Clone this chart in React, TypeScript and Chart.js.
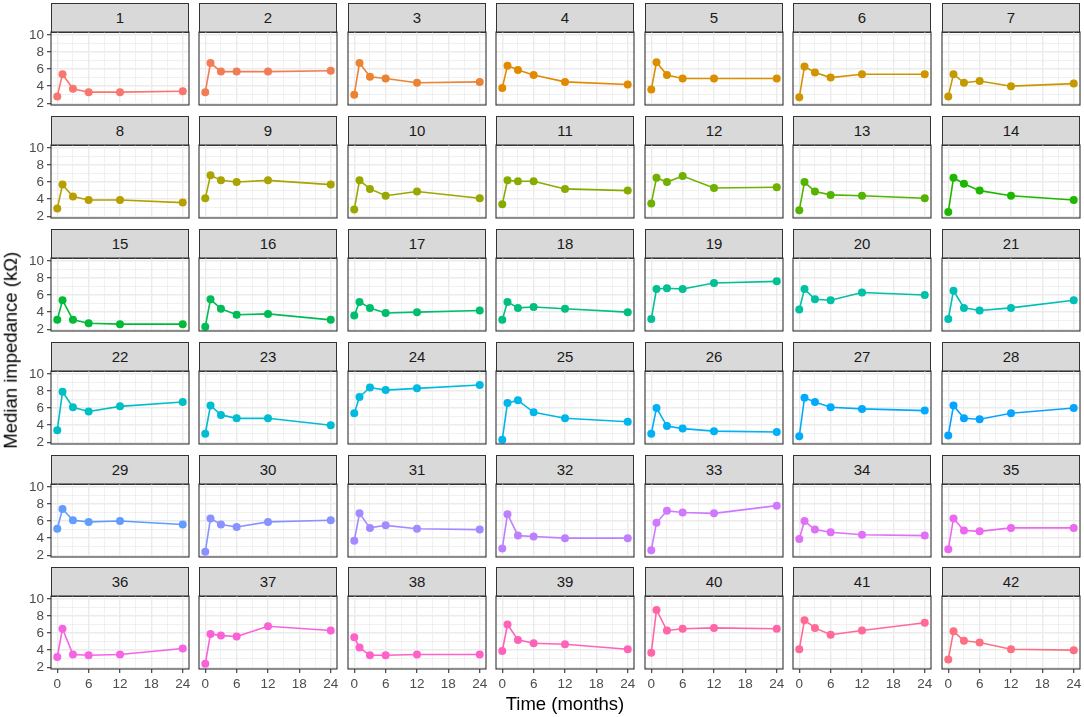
import React, { useEffect, useRef } from 'react';
import { Chart, registerables } from 'chart.js';

Chart.register(...registerables);

// ---------- data ----------
const months = [0, 1, 3, 6, 12, 24];
const electrodeLabels = [
  '1', '2', '3', '4', '5', '6', '7', '8', '9', '10', '11', '12', '13', '14',
  '15', '16', '17', '18', '19', '20', '21', '22', '23', '24', '25', '26', '27', '28',
  '29', '30', '31', '32', '33', '34', '35', '36', '37', '38', '39', '40', '41', '42',
];
const medianImpedance: number[][] = [
  [2.8, 5.4, 3.7, 3.3, 3.3, 3.4],
  [3.3, 6.7, 5.7, 5.7, 5.7, 5.8],
  [3.0, 6.7, 5.1, 4.9, 4.4, 4.5],
  [3.8, 6.4, 5.9, 5.3, 4.5, 4.2],
  [3.6, 6.8, 5.3, 4.9, 4.9, 4.9],
  [2.7, 6.3, 5.6, 5.0, 5.4, 5.4],
  [2.8, 5.4, 4.4, 4.6, 4.0, 4.3],
  [2.9, 5.7, 4.3, 3.9, 3.9, 3.6],
  [4.1, 6.8, 6.2, 6.0, 6.2, 5.7],
  [2.8, 6.2, 5.2, 4.4, 4.9, 4.1],
  [3.4, 6.2, 6.1, 6.1, 5.2, 5.0],
  [3.5, 6.5, 6.0, 6.7, 5.3, 5.4],
  [2.7, 6.0, 4.9, 4.5, 4.4, 4.1],
  [2.5, 6.5, 5.8, 5.0, 4.4, 3.9],
  [3.1, 5.4, 3.1, 2.7, 2.6, 2.6],
  [2.3, 5.5, 4.4, 3.7, 3.8, 3.1],
  [3.6, 5.2, 4.5, 3.9, 4.0, 4.2],
  [3.1, 5.2, 4.5, 4.6, 4.4, 4.0],
  [3.2, 6.7, 6.8, 6.7, 7.4, 7.6],
  [4.3, 6.7, 5.5, 5.4, 6.3, 6.0],
  [3.2, 6.5, 4.5, 4.2, 4.5, 5.4],
  [3.4, 7.9, 6.1, 5.6, 6.2, 6.7],
  [3.0, 6.3, 5.2, 4.8, 4.8, 4.0],
  [5.4, 7.3, 8.4, 8.1, 8.3, 8.7],
  [2.3, 6.6, 6.9, 5.5, 4.8, 4.4],
  [3.0, 6.0, 3.9, 3.6, 3.3, 3.2],
  [2.7, 7.2, 6.7, 6.1, 5.9, 5.7],
  [2.8, 6.3, 4.8, 4.7, 5.4, 6.0],
  [5.1, 7.4, 6.1, 5.9, 6.0, 5.6],
  [2.4, 6.3, 5.6, 5.3, 5.9, 6.1],
  [3.7, 6.9, 5.2, 5.5, 5.1, 5.0],
  [2.8, 6.8, 4.3, 4.2, 4.0, 4.0],
  [2.6, 5.8, 7.2, 7.0, 6.9, 7.8],
  [3.9, 6.0, 5.0, 4.7, 4.4, 4.3],
  [2.7, 6.3, 4.9, 4.8, 5.2, 5.2],
  [3.2, 6.5, 3.5, 3.4, 3.5, 4.2],
  [2.4, 5.9, 5.7, 5.6, 6.8, 6.3],
  [5.5, 4.3, 3.4, 3.4, 3.5, 3.5],
  [3.9, 7.0, 5.2, 4.8, 4.7, 4.1],
  [3.7, 8.7, 6.3, 6.5, 6.6, 6.5],
  [4.1, 7.5, 6.6, 5.8, 6.3, 7.2],
  [2.9, 6.2, 5.1, 4.9, 4.1, 4.0],
];
const xMajorTicks = [0, 6, 12, 18, 24];
const xMinorTicks = [3, 9, 15, 21];
const yMajorTicks = [2, 4, 6, 8, 10];
const yMinorTicks = [3, 5, 7, 9];
const xTitle = 'Time (months)';
const yTitle = 'Median impedance (kΩ)';

// ---------- layout / style ----------
const NCOL = 7;
const NROW = 6;
const PW = 138;
const PH = 73;
const STRIP_H = 29;
const PAD = 12;
const X_MIN = -1.2;
const X_MAX = 25.2;
const Y_MIN = 1.8;
const Y_MAX = 10.33;
const FONT = '"Liberation Sans", Arial, sans-serif';
const TICK_FONT_SIZE = 13.5;

const colLeft = (c: number) => Math.round(50.8 + 148.5 * c);
const rowTop = (r: number) => Math.round(32.3 + 112.8 * r);

// ggplot2 default hue palette (hcl, c = 100, l = 65)
function hclHex(h: number, c = 100, l = 65): string {
  const hr = (h * Math.PI) / 180;
  const U = c * Math.cos(hr);
  const V = c * Math.sin(hr);
  const Y = l > 7.999592 ? Math.pow((l + 16) / 116, 3) : l / 903.3;
  const Xn = 0.95047, Yn = 1.0, Zn = 1.08883;
  const den = Xn + 15 * Yn + 3 * Zn;
  const un = (4 * Xn) / den;
  const vn = (9 * Yn) / den;
  const u = U / (13 * l) + un;
  const v = V / (13 * l) + vn;
  const X = (9 * Y * u) / (4 * v);
  const Z = -X / 3 - 5 * Y + (3 * Y) / v;
  const lin = [
    3.240479 * X - 1.53715 * Y - 0.498535 * Z,
    -0.969256 * X + 1.875992 * Y + 0.041556 * Z,
    0.055648 * X - 0.204043 * Y + 1.057311 * Z,
  ];
  const toHex = (x: number) => {
    const g = x <= 0.0031308 ? 12.92 * x : 1.055 * Math.pow(x, 1 / 2.4) - 0.055;
    const n = Math.round(Math.min(1, Math.max(0, g)) * 255);
    return n.toString(16).padStart(2, '0');
  };
  return '#' + lin.map(toHex).join('');
}
const panelColors = electrodeLabels.map((_, i) => hclHex(15 + (i * 360) / electrodeLabels.length));

const panelBorder = {
  id: 'panelBorder',
  afterDatasetsDraw(chart: any) {
    const { ctx, chartArea } = chart;
    const { left, top, right, bottom } = chartArea;
    ctx.save();
    ctx.strokeStyle = '#333333';
    ctx.lineWidth = 1.1;
    ctx.strokeRect(left, top, right - left, bottom - top);
    ctx.restore();
  },
};

function Panel({ index }: { index: number }) {
  const ref = useRef<HTMLCanvasElement>(null);
  const col = index % NCOL;
  const row = Math.floor(index / NCOL);
  const left = colLeft(col);
  const top = rowTop(row);
  const isLeft = col === 0;
  const isBottom = row === NROW - 1;
  const yW = isLeft ? 26 : 0;
  const xH = isBottom ? 22 : 0;
  const W = PW + 2 * PAD + yW;
  const H = PH + 2 * PAD + xH;
  const color = panelColors[index];

  useEffect(() => {
    if (!ref.current) return;
    const xAll = [...xMajorTicks, ...xMinorTicks].sort((a, b) => a - b);
    const yAll = [...yMajorTicks, ...yMinorTicks].sort((a, b) => a - b);
    const chart = new Chart(ref.current, {
      type: 'line',
      data: {
        datasets: [
          {
            data: months.map((m, j) => ({ x: m, y: medianImpedance[index][j] })),
            borderColor: color,
            backgroundColor: color,
            pointBackgroundColor: color,
            pointBorderColor: color,
            pointBorderWidth: 0,
            pointRadius: 4,
            borderWidth: 1.6,
            tension: 0,
            fill: false,
            clip: false as any,
          },
        ],
      },
      options: {
        responsive: false,
        maintainAspectRatio: false,
        animation: false,
        events: [],
        layout: { padding: PAD },
        plugins: {
          legend: { display: false },
          tooltip: { enabled: false },
          title: { display: false },
        },
        scales: {
          x: {
            type: 'linear',
            min: X_MIN,
            max: X_MAX,
            afterBuildTicks: (s: any) => {
              s.ticks = xAll.map((v) => ({ value: v }));
            },
            afterFit: (s: any) => {
              s.height = xH;
            },
            border: { display: false },
            grid: {
              color: '#EBEBEB',
              lineWidth: (ctx: any) => (ctx.tick && xMajorTicks.includes(ctx.tick.value) ? 1.4 : 0.7),
              drawTicks: isBottom,
              tickLength: 4,
              tickWidth: 1.1,
              tickColor: (ctx: any) =>
                ctx.tick && xMajorTicks.includes(ctx.tick.value) ? '#333333' : 'rgba(0,0,0,0)',
            },
            ticks: {
              display: isBottom,
              autoSkip: false,
              maxRotation: 0,
              minRotation: 0,
              padding: 3,
              color: '#4D4D4D',
              font: { family: FONT, size: TICK_FONT_SIZE },
              callback: (v: any) => (xMajorTicks.includes(Number(v)) ? String(v) : ''),
            },
          },
          y: {
            type: 'linear',
            min: Y_MIN,
            max: Y_MAX,
            afterBuildTicks: (s: any) => {
              s.ticks = yAll.map((v) => ({ value: v }));
            },
            afterFit: (s: any) => {
              s.width = yW;
            },
            border: { display: false },
            grid: {
              color: '#EBEBEB',
              lineWidth: (ctx: any) => (ctx.tick && yMajorTicks.includes(ctx.tick.value) ? 1.4 : 0.7),
              drawTicks: isLeft,
              tickLength: 4,
              tickWidth: 1.1,
              tickColor: (ctx: any) =>
                ctx.tick && yMajorTicks.includes(ctx.tick.value) ? '#333333' : 'rgba(0,0,0,0)',
            },
            ticks: {
              display: isLeft,
              autoSkip: false,
              padding: 3,
              color: '#4D4D4D',
              font: { family: FONT, size: TICK_FONT_SIZE },
              callback: (v: any) => (yMajorTicks.includes(Number(v)) ? String(v) : ''),
            },
          },
        },
      },
      plugins: [panelBorder],
    } as any);
    return () => chart.destroy();
  }, [index]);

  return (
    <>
      <div
        style={{
          position: 'absolute',
          left,
          top: top - STRIP_H,
          width: PW,
          height: STRIP_H + 1,
          boxSizing: 'border-box',
          border: '1px solid #333333',
          background: '#D9D9D9',
          color: '#1A1A1A',
          fontFamily: FONT,
          fontSize: 15,
          lineHeight: `${STRIP_H - 1}px`,
          textAlign: 'center',
        }}
      >
        {electrodeLabels[index]}
      </div>
      <canvas
        ref={ref}
        width={W}
        height={H}
        style={{
          position: 'absolute',
          left: left - PAD - yW,
          top: top - PAD,
          width: W,
          height: H,
        }}
      />
    </>
  );
}

export default function App() {
  return (
    <div
      style={{
        position: 'absolute',
        left: 0,
        top: 0,
        width: 1084,
        height: 717,
        background: '#FFFFFF',
        overflow: 'hidden',
        fontFamily: FONT,
      }}
    >
      {electrodeLabels.map((_, i) => (
        <Panel key={i} index={i} />
      ))}
      <div
        style={{
          position: 'absolute',
          left: 0,
          top: 695,
          width: 2 * 565,
          height: 18.5,
          lineHeight: '18.5px',
          fontSize: 18.5,
          textAlign: 'center',
          color: '#000000',
          whiteSpace: 'nowrap',
        }}
      >
        {xTitle}
      </div>
      <div
        style={{
          position: 'absolute',
          left: 10.6 - 150,
          top: 350 - 9.25,
          width: 300,
          height: 18.5,
          lineHeight: '18.5px',
          fontSize: 18.5,
          textAlign: 'center',
          color: '#000000',
          whiteSpace: 'nowrap',
          transform: 'rotate(-90deg)',
          transformOrigin: 'center center',
        }}
      >
        {yTitle}
      </div>
    </div>
  );
}
